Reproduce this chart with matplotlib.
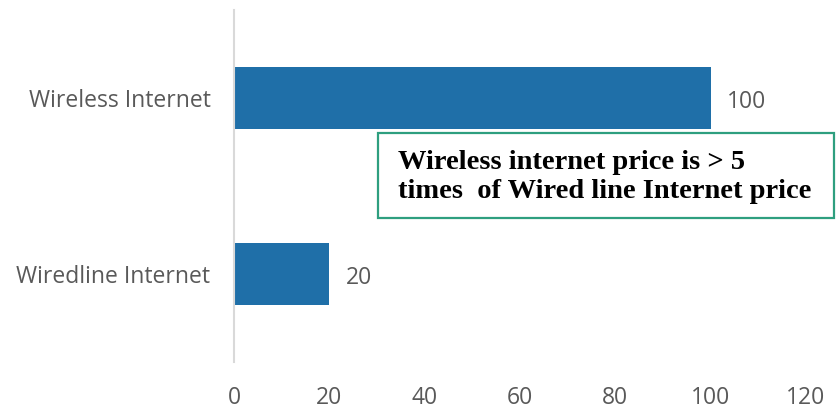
import matplotlib.pyplot as plt
from matplotlib.patches import Rectangle

categories = ["Wireless Internet", "Wiredline Internet"]
prices = [100, 20]
x_ticks = [0, 20, 40, 60, 80, 100, 120]
note = "Wireless internet price is > 5\ntimes  of Wired line Internet price"

BAR_COLOR = "#1f6fa8"
TEXT_GRAY = "#595959"
NOTE_GREEN = "#2e9f7f"
LABEL_FONT = "Open Sans"

fig = plt.figure(figsize=(8.36, 4.08), dpi=100)
ax = fig.add_axes([0.2799, 0.1127, 0.6842, 0.8628])

positions = list(range(len(categories)))
ax.barh(positions, prices, height=0.35, color=BAR_COLOR)
ax.set_ylim(1.5, -0.5)
ax.set_xlim(0, 120)

for pos, value in zip(positions, prices):
    ax.text(value + 3.5, pos + 0.02, str(value), va="center", ha="left",
            fontsize=16.5, color=TEXT_GRAY, family=LABEL_FONT)

ax.set_yticks(positions)
ax.set_yticklabels(categories, fontsize=16.5, color=TEXT_GRAY, family=LABEL_FONT)
ax.set_xticks(x_ticks)
ax.set_xticklabels([str(t) for t in x_ticks], fontsize=16.5, color=TEXT_GRAY, family=LABEL_FONT)
ax.tick_params(axis="both", length=0)
ax.tick_params(axis="y", pad=17)
ax.tick_params(axis="x", pad=17)

for side in ["top", "right", "bottom"]:
    ax.spines[side].set_visible(False)
ax.spines["left"].set_color("#d9d9d9")
ax.spines["left"].set_linewidth(1.5)

# callout box on top of the chart
box = Rectangle((378 / 836, 1 - 218 / 408), (834 - 378) / 836, (218 - 133) / 408,
                transform=fig.transFigure, facecolor="white", edgecolor=NOTE_GREEN,
                linewidth=1.6, zorder=5)
fig.patches.append(box)
fig.text(398 / 836, 1 - 177 / 408, note, transform=fig.transFigure, ha="left",
         va="center", fontsize=20.5, fontweight="bold", family="Liberation Serif",
         linespacing=1.2, zorder=6)

fig.savefig("out.png", dpi=100)
